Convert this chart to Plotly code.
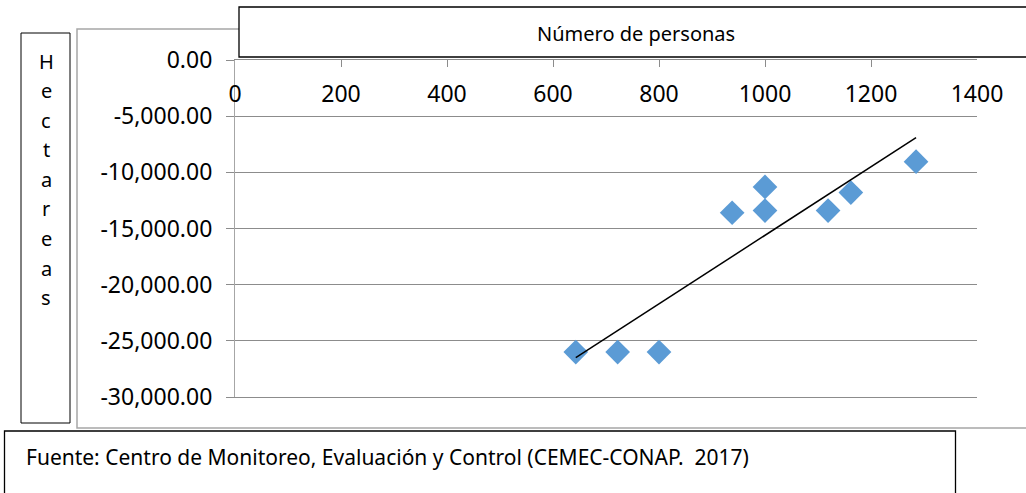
import numpy as np
import plotly.graph_objects as go

# Data
personas = [643, 722, 800, 938, 1000, 1000, 1119, 1162, 1285]
hectareas = [-26000, -26000, -26000, -13600, -11300, -13400, -13400, -11800, -9050]
x_ticks = [0, 200, 400, 600, 800, 1000, 1200, 1400]
y_ticks = [0, -5000, -10000, -15000, -20000, -25000, -30000]
y_ticktext = ["0.00", "-5,000.00", "-10,000.00", "-15,000.00", "-20,000.00",
              "-25,000.00", "-30,000.00"]
x_title = "Número de personas"
y_title = "Hectareas"
source = "Fuente: Centro de Monitoreo, Evaluación y Control (CEMEC-CONAP.  2017)"

W, H = 1026, 493
L, R, T, B = 235, 977, 60, 397  # plot area in px
FONT = "Noto Sans"

def px_x(p):
    return (p - L) / (R - L)

def px_y(p):
    return (B - p) / (B - T)

# linear trendline (as Excel computes it) from the data
slope, intercept = np.polyfit(personas, hectareas, 1)
tx = [min(personas), max(personas)]
ty = [slope * v + intercept for v in tx]

fig = go.Figure()
fig.add_trace(go.Scatter(x=personas, y=hectareas, mode="markers",
                         marker=dict(symbol="diamond", size=19, color="#5B9BD5",
                                     line=dict(width=0)),
                         showlegend=False, cliponaxis=False))
fig.add_trace(go.Scatter(x=tx, y=ty, mode="lines", xaxis="x2",
                         line=dict(color="black", width=1.5),
                         showlegend=False))

shapes = []
shapes.append(dict(type="rect", xref="paper", yref="paper",
                   x0=px_x(77), x1=px_x(1030), y0=px_y(428), y1=px_y(29),
                   line=dict(color="#A6A6A6", width=1.5), fillcolor="rgba(0,0,0,0)",
                   layer="below"))
shapes.append(dict(type="rect", xref="paper", yref="paper",
                   x0=px_x(21), x1=px_x(70), y0=px_y(423), y1=px_y(33),
                   line=dict(color="black", width=1), fillcolor="white"))
shapes.append(dict(type="rect", xref="paper", yref="paper",
                   x0=px_x(239), x1=px_x(1032), y0=px_y(57), y1=px_y(7),
                   line=dict(color="black", width=1.3), fillcolor="white"))
shapes.append(dict(type="rect", xref="paper", yref="paper",
                   x0=px_x(4.5), x1=px_x(955.5), y0=px_y(500), y1=px_y(431),
                   line=dict(color="black", width=1.3), fillcolor="white"))

annotations = []
annotations.append(dict(text=x_title, xref="paper", yref="paper",
                        x=px_x(636), y=px_y(33), xanchor="center", yanchor="middle",
                        showarrow=False, font=dict(family=FONT, size=20, color="black")))
for i, ch in enumerate(y_title):
    annotations.append(dict(text=ch, xref="paper", yref="paper",
                            x=px_x(46), y=px_y(61 + i * 29.6), xanchor="center",
                            yanchor="middle", showarrow=False,
                            font=dict(family=FONT, size=20, color="black")))
annotations.append(dict(text=source, xref="paper", yref="paper",
                        x=px_x(24), y=px_y(457), xanchor="left", yanchor="middle",
                        showarrow=False, font=dict(family=FONT, size=21, color="black")))

GRID = "#8C8C8C"
fig.update_layout(
    width=W, height=H,
    margin=dict(l=L, r=W - R, t=T, b=H - B, pad=0),
    paper_bgcolor="white", plot_bgcolor="white",
    font=dict(family=FONT, size=23, color="black"),
    shapes=shapes, annotations=annotations,
    # axis line + inward ticks at the top (y = 0), mirrored line at the bottom
    xaxis=dict(range=[0, 1400], tickvals=x_ticks, side="top",
               ticks="inside", ticklen=7, tickcolor=GRID,
               showline=True, mirror=True, linecolor=GRID, linewidth=1,
               showticklabels=False, showgrid=False, zeroline=False),
    # tick labels below the top line
    xaxis2=dict(range=[0, 1400], tickvals=x_ticks, overlaying="x", matches="x",
                anchor="free", position=px_y(78), side="bottom",
                ticks="", showline=False, showgrid=False, zeroline=False,
                tickfont=dict(family=FONT, size=23)),
    yaxis=dict(range=[-30000, 0], tickvals=y_ticks, ticktext=y_ticktext,
               ticks="outside", ticklen=8, tickcolor=GRID,
               showline=True, linecolor="#A6A6A6", linewidth=1.2,
               showgrid=True, gridcolor=GRID, gridwidth=1,
               zeroline=False, ticklabelstandoff=9,
               tickfont=dict(family=FONT, size=23)),
)

fig.write_html("out.html", config={"displayModeBar": False},
               post_script="document.body.style.margin='0';")
